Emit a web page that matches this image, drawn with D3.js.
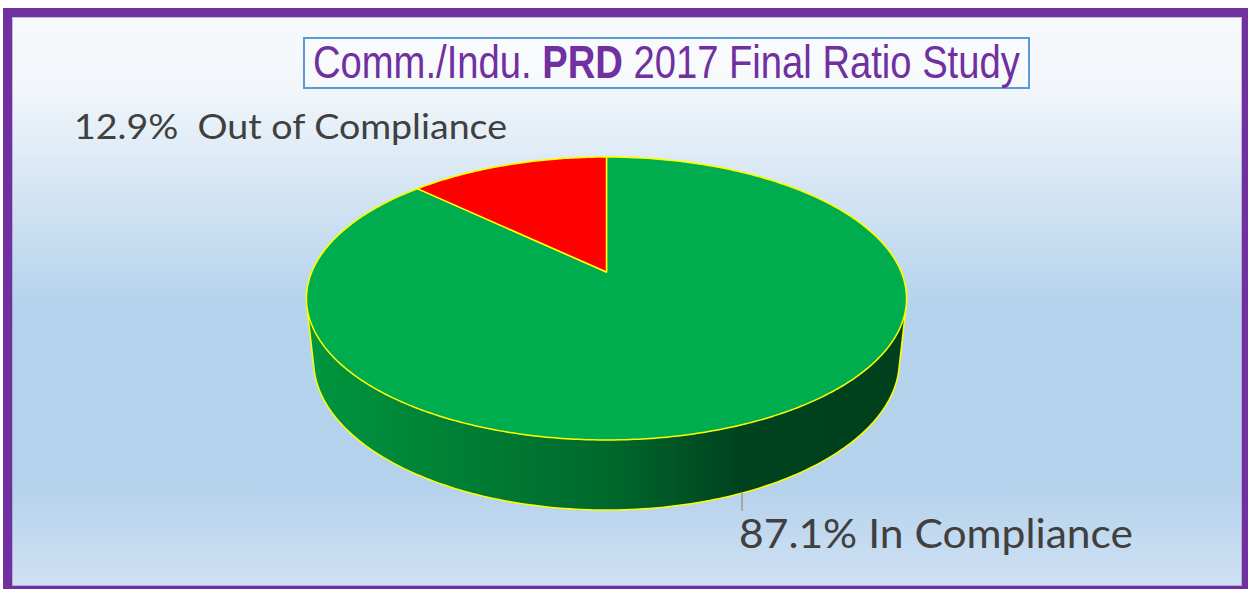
<!DOCTYPE html>
<html>
<head>
<meta charset="utf-8">
<script src="https://cdn.jsdelivr.net/npm/d3@7"></script>
<style>
  html, body { margin: 0; padding: 0; background: #fff; }
  svg { display: block; }
</style>
</head>
<body>
<svg id="chart" width="1248" height="589"></svg>
<script>
// data
const labels = ['In Compliance', 'Out of Compliance']
const values = [87.1, 12.9]
const colors = ['#00ad4e', '#ff0000']
const titleParts = ['Comm./Indu. ', 'PRD', ' 2017 Final Ratio Study']

const svg = d3.select('#chart')

const defs = svg.append('defs')
const bg = defs.append('linearGradient').attr('id', 'bg')
  .attr('x1', 0).attr('y1', 0).attr('x2', 0).attr('y2', 1)
bg.append('stop').attr('offset', '0%').attr('stop-color', '#f6f9fc')
bg.append('stop').attr('offset', '12%').attr('stop-color', '#f3f7fb')
bg.append('stop').attr('offset', '50%').attr('stop-color', '#b5d3ec')
bg.append('stop').attr('offset', '82%').attr('stop-color', '#b5d2ec')
bg.append('stop').attr('offset', '100%').attr('stop-color', '#d0e2f3')

const sideGrad = defs.append('linearGradient').attr('id', 'side')
  .attr('gradientUnits', 'userSpaceOnUse')
  .attr('x1', 308).attr('y1', 0).attr('x2', 906).attr('y2', 0)
sideGrad.append('stop').attr('offset', '0%').attr('stop-color', '#00963f')
sideGrad.append('stop').attr('offset', '25%').attr('stop-color', '#007f35')
sideGrad.append('stop').attr('offset', '50%').attr('stop-color', '#00692c')
sideGrad.append('stop').attr('offset', '72%').attr('stop-color', '#00431e')
sideGrad.append('stop').attr('offset', '100%').attr('stop-color', '#00401d')

// frame
svg.append('rect').attr('x', 7.5).attr('y', 12.5).attr('width', 1239).attr('height', 578)
  .attr('fill', 'url(#bg)').attr('stroke', '#7030a0').attr('stroke-width', 9)
svg.append('rect').attr('x', 12.5).attr('y', 17.5).attr('width', 1229).attr('height', 568)
  .attr('fill', 'none').attr('stroke', '#a98bc8').attr('stroke-width', 1).attr('opacity', 0.6)

// title
svg.append('rect').attr('x', 304).attr('y', 38).attr('width', 725).attr('height', 50)
  .attr('fill', '#ffffff').attr('fill-opacity', 0.35)
  .attr('stroke', '#5b9bd5').attr('stroke-width', 2)
const titleG = svg.append('g')
const title = titleG.append('text')
  .attr('x', 0).attr('y', 0)
  .style('font-family', '"Liberation Sans Narrow", "Arial Narrow", "Liberation Sans", Arial, sans-serif')
  .style('font-size', '46px')
  .attr('fill', '#7030a0')
titleParts.forEach((t, i) => {
  title.append('tspan').text(t).style('font-weight', i === 1 ? 'bold' : 'normal')
})
// squeeze to the narrow width of the original
const tw = title.node().getComputedTextLength()
const titleWidth = 707
titleG.attr('transform', 'translate(313,78) scale(' + (titleWidth / tw) + ',1)')

// 3d pie projection
const cx = 606.5, cy = 272, f = 1394, D = 4.73, depth3d = 0.2393
const sa = 0.4632, ca = Math.sqrt(1 - sa * sa)
function proj (theta, h) {
  const u = Math.sin(theta), v = -Math.cos(theta)
  const d = D + h * sa - v * ca
  return [cx + f * u / d, cy + f * (h * ca + v * sa) / d]
}

const pie = d3.pie().sort(null).value(d => d)
const arcs = pie(values)

const ring = d3.range(0, 361).map(a => a * Math.PI / 180)
const hull = d3.polygonHull(ring.map(a => proj(a, 0)).concat(ring.map(a => proj(a, depth3d))))

const g = svg.append('g')
g.append('path')
  .attr('d', 'M' + hull.join('L') + 'Z')
  .attr('fill', 'url(#side)')
  .attr('stroke', '#ffff00').attr('stroke-width', 1.5).attr('stroke-linejoin', 'round')

const line = d3.line()
g.selectAll('path.slice')
  .data(arcs)
  .enter().append('path')
  .attr('class', 'slice')
  .attr('d', d => {
    const n = Math.max(4, Math.ceil((d.endAngle - d.startAngle) * 90))
    const pts = [[cx, cy]]
    for (let i = 0; i <= n; i++) {
      pts.push(proj(d.startAngle + (d.endAngle - d.startAngle) * i / n, 0))
    }
    return line(pts) + 'Z'
  })
  .attr('fill', (d, i) => colors[i])
  .attr('stroke', '#ffff00').attr('stroke-width', 1.5).attr('stroke-linejoin', 'round')

// labels
const lbl = svg.append('g')
  .style('font-family', 'Lato, "Open Sans", sans-serif')
  .attr('fill', '#404040')

lbl.append('text')
  .attr('x', 74).attr('y', 139)
  .style('font-size', '34px')
  .attr('textLength', 433).attr('lengthAdjust', 'spacingAndGlyphs')
  .text(d3.format('.1f')(values[1]) + '%\u00a0 ' + labels[1])

svg.append('line')
  .attr('x1', 742).attr('x2', 742).attr('y1', 492).attr('y2', 511)
  .attr('stroke', '#a6a6a6').attr('stroke-width', 2)

lbl.append('text')
  .attr('x', 739).attr('y', 548)
  .style('font-size', '41px')
  .attr('textLength', 394).attr('lengthAdjust', 'spacingAndGlyphs')
  .text(d3.format('.1f')(values[0]) + '% ' + labels[0])
</script>
</body>
</html>
